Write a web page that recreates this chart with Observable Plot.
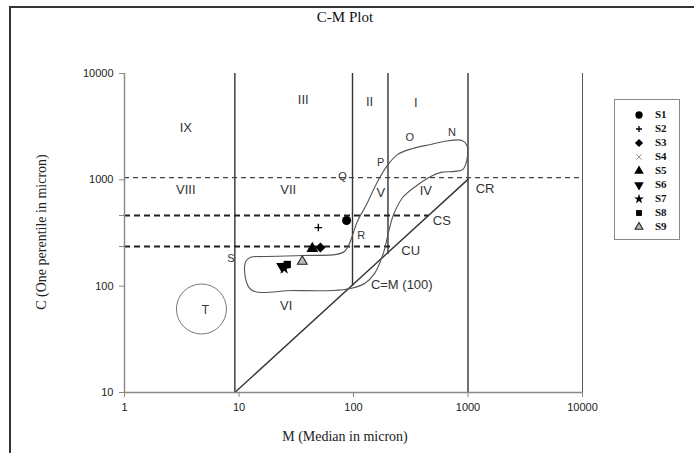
<!DOCTYPE html>
<html><head><meta charset="utf-8">
<script src="https://cdn.jsdelivr.net/npm/d3@7"></script>
<script src="https://cdn.jsdelivr.net/npm/@observablehq/plot@0.6"></script>
<style>
body{margin:0;background:#fff;}
#wrap{position:relative;width:694px;height:453px;overflow:hidden;background:#fff;}
#frame{position:absolute;left:9px;top:6px;width:720px;height:480px;border-left:2px solid #333;border-top:2px solid #333;}
#chart{position:absolute;left:0;top:0;}
#title{position:absolute;left:0;width:690px;top:9px;text-align:center;font:15px "Liberation Serif",serif;color:#111;}
#ylab{position:absolute;left:42px;top:232px;transform:translate(-50%,-50%) rotate(-90deg);white-space:nowrap;font:14px "Liberation Serif",serif;color:#222;}
#xlab{position:absolute;left:345px;top:437px;transform:translate(-50%,-50%);white-space:nowrap;font:14px "Liberation Serif",serif;color:#222;}
#legend{position:absolute;left:614px;top:99px;width:66px;height:141px;box-sizing:border-box;border:1px solid #888;background:#fff;}
.lrow{position:absolute;left:0;width:64px;height:14px;}
.lrow svg{position:absolute;left:17px;top:0;}
.lrow span{position:absolute;left:40px;top:0;line-height:14px;font:bold 11px "Liberation Serif",serif;color:#111;}
</style></head>
<body>
<div id="wrap">
  <div id="frame"></div>
  <div id="chart"></div>
  <div id="title">C-M Plot</div>
  <div id="ylab">C (One perentile in micron)</div>
  <div id="xlab">M (Median in micron)</div>
  <div id="legend"></div>
</div>
<script>
// ---- data ----
const mTicks = [1, 10, 100, 1000, 10000];
const cTicks = [10, 100, 1000, 10000];
const cMinorTicks = [236, 462];

const samples = ["S1","S2","S3","S4","S5","S6","S7","S8","S9"];
const sampleM = [87, 49.3, 51.4, 25.5, 43.7, 23.8, 24.8, 26.4, 35.7];
const sampleC = [415, 356, 231, 156, 226, 153, 147, 160, 171];

// region boundary lines
const regionM = [9.2, 98, 200, 1000];
const regionCLow = [10, 100, 200, 10];
const regionCHigh = [10000, 10000, 10000, 10000];
const diagM = [9.2, 1000];
const diagC = [10, 1010];
const dashC = [1050, 462, 236];
const dashMStart = [1, 1, 1];
const dashMEnd = [10000, 455, 225];

// C-M pattern outline (closed)
const curveM = [11.3,12.5,16.2,36.4,71,83.4,90.4,98,108,130,159,195,243,330,473,615,886,979,979,903,769,580,473,357,269,224,203,183,153,125,94,66.8,29.8,12.7];
const curveC = [164,186,190,194,199,212,241,300,406,587,925,1337,1734,1974,2152,2296,2349,2107,1556,1253,1200,1175,1077,885,682,472,327,207,132,106,95,91,91,93];

// annotations
const labelText = ["IX","III","II","I","VIII","VII","V","IV","CR","Q","P","O","N","R","S","CS","CU","C=M (100)","VI","T"];
const labelM = [3.43,36.4,138,350,3.43,26.9,173,428,1410,80.1,173,310,724,117,8.51,591,316,264,25.8,5.1];
const labelC = [3111,5700,5470,5350,813,813,760,795,830,1076,1459,2507,2794,300,182,415,217,102,65.8,60];
const labelSize = [13,13,13,13,13,13,13,13,13,11,11,11,11,11,11,13,13,13,13,12];
const circleM = [4.7];
const circleC = [61];

// ---- build ----
const downTriangle = {draw(ctx, size){ const s = Math.sqrt(size / (Math.sqrt(3) / 4)); const h = s * Math.sqrt(3) / 2; ctx.moveTo(0, h * 2 / 3); ctx.lineTo(s / 2, -h / 3); ctx.lineTo(-s / 2, -h / 3); ctx.closePath(); }};
const symStyle = [
  {symbol:"circle", r:4.5, fill:"#000", stroke:"none"},
  {symbol:"plus", r:2.6, fill:"none", stroke:"#000", strokeWidth:1.3},
  {symbol:"diamond2", r:4.6, fill:"#000", stroke:"none"},
  {symbol:"times", r:3.2, fill:"none", stroke:"#999", strokeWidth:1},
  {symbol:"triangle", r:4.4, fill:"#000", stroke:"none"},
  {symbol:downTriangle, r:4.4, fill:"#000", stroke:"none"},
  {symbol:"star", r:3.9, fill:"#000", stroke:"none"},
  {symbol:"square", r:4.1, fill:"#000", stroke:"none"},
  {symbol:"triangle", r:3.6, fill:"#bbb", stroke:"#222", strokeWidth:1.1}
];

const zip = (a, b) => a.map((v, i) => ({m: v, c: b[i]}));
const curvePts = zip(curveM, curveC);
const regions = regionM.map((m, i) => ({m, c1: regionCLow[i], c2: regionCHigh[i]}));
const dashes = dashC.map((c, i) => ({c, m1: dashMStart[i], m2: dashMEnd[i]}));
const labels = labelText.map((t, i) => ({t, m: labelM[i], c: labelC[i], s: labelSize[i]}));

const marks = [
  Plot.ruleX([10000], {stroke: "#555", strokeWidth: 1}),
  Plot.ruleX(regions, {x: "m", y1: "c1", y2: "c2", stroke: "#333", strokeWidth: 1.4}),
  Plot.line(zip(diagM, diagC), {x: "m", y: "c", stroke: "#333", strokeWidth: 1.4}),
  Plot.ruleY(dashes.slice(0, 1), {y: "c", x1: "m1", x2: "m2", stroke: "#444", strokeWidth: 1.1, strokeDasharray: "5,4"}),
  Plot.ruleY(dashes.slice(1), {y: "c", x1: "m1", x2: "m2", stroke: "#222", strokeWidth: 2, strokeDasharray: "6,4"}),
  Plot.line(curvePts, {x: "m", y: "c", curve: "catmull-rom-closed", stroke: "#555", strokeWidth: 1.1}),
  Plot.dot(zip(circleM, circleC), {x: "m", y: "c", r: 25, stroke: "#777", strokeWidth: 1, fill: "none"}),
  ...labels.map(d => Plot.text([d], {x: "m", y: "c", text: "t", fontSize: d.s, fill: "#333", fontFamily: "Liberation Sans, Arial, sans-serif"})),
  ...samples.map((s, i) => Plot.dot([{m: sampleM[i], c: sampleC[i]}], {x: "m", y: "c", ...symStyle[i]})),
  Plot.ruleY([10], {stroke: "#888", strokeWidth: 1.4}),
  Plot.ruleX([1], {stroke: "#888", strokeWidth: 1.4}),
  Plot.axisX({ticks: mTicks, tickFormat: d => String(d), tickSize: 5, tickPadding: 6, stroke: "#888", fill: "#222", label: null, fontSize: 11}),
  Plot.axisY({ticks: cTicks, tickFormat: d => String(d), tickSize: 5, tickPadding: 6, stroke: "#888", fill: "#222", label: null, fontSize: 11}),
  Plot.axisY({ticks: cMinorTicks, tickFormat: () => "", tickSize: 5, stroke: "#888", label: null})
];

const chart = Plot.plot({
  width: 694, height: 453,
  marginLeft: 124, marginRight: 112, marginTop: 73, marginBottom: 61,
  x: {type: "log", domain: [1, 10000]},
  y: {type: "log", domain: [10, 10000]},
  style: {fontFamily: "Liberation Sans, Arial, sans-serif", fontSize: "11px", background: "transparent", color: "#222"},
  marks
});
document.getElementById("chart").appendChild(chart);

// legend
const symMap = {circle: d3.symbolCircle, plus: d3.symbolPlus, diamond2: d3.symbolDiamond2, times: d3.symbolTimes, triangle: d3.symbolTriangle, star: d3.symbolStar, square: d3.symbolSquare};
const leg = d3.select("#legend");
samples.forEach((s, i) => {
  const row = leg.append("div").attr("class", "lrow").style("top", (8 + 14 * i) + "px");
  const svg = row.append("svg").attr("width", 14).attr("height", 14);
  const st = symStyle[i];
  const t = typeof st.symbol === "string" ? symMap[st.symbol] : st.symbol;
  svg.append("path").attr("transform", "translate(7,7)")
    .attr("d", d3.symbol(t, Math.PI * st.r * st.r * 0.65)())
    .attr("fill", st.fill).attr("stroke", st.stroke === "none" ? null : st.stroke)
    .attr("stroke-width", st.strokeWidth || 1);
  row.append("span").text(s);
});
</script>
</body></html>
